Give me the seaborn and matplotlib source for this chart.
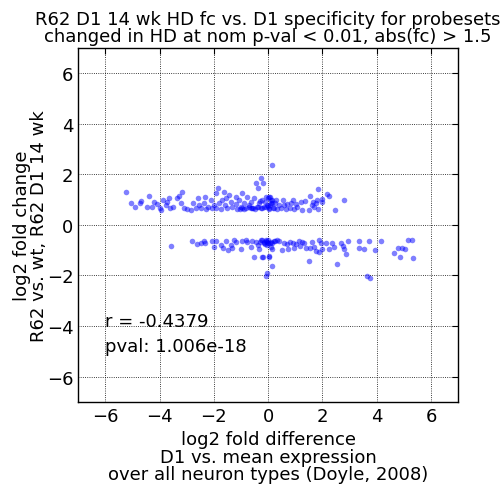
import matplotlib
matplotlib.use('Agg')
import matplotlib.pyplot as plt
import seaborn as sns
import pandas as pd

# probesets up in HD (upper band)
up_x = [-5.25, -5.04, -4.91, -4.73, -4.67, -4.48, -4.39, -4.29, -4.19, -4.08,
        -4.00, -3.96, -3.86, -3.78, -3.71, -3.65, -3.63, -3.51, -3.35, -3.28,
        -3.22, -3.16, -3.10, -3.00, -2.85, -2.76, -2.67, -2.58, -2.55, -2.48,
        -2.36, -2.32, -2.30, -2.20, -2.11, -2.05, -1.99, -1.93, -1.91, -1.83,
        -1.81, -1.75, -1.69, -1.62, -1.59, -1.56, -1.50, -1.44, -1.38, -1.32,
        -1.19, -1.17, -1.13, -1.07, -1.01, -0.95, -0.89, -0.82, -0.76, -0.70,
        -0.64, -0.58, -0.52, -0.45, -0.39, -0.36, -0.33, -0.27, -0.25, -0.21,
        -0.18, -0.15, -0.08, -0.03, 0.04, 0.06, 0.10, 0.16, 0.13,
        -0.22, -0.06, -0.02, 0.02, 0.19, 0.08, -0.10, -0.30, 0.00, 0.25,
        -1.05, -0.98, -0.88, -0.72, -0.62, -0.55, -0.48, -0.42,
        0.04, 0.10, 0.16, 0.22, 0.28, 0.34, 0.41, 0.47, 0.53, 0.59,
        0.65, 0.71, 0.80, 0.86, 0.90, 0.96, 1.02, 1.08, 1.21, 1.24,
        1.35, 1.49, 1.54, 1.61, 1.64, 1.70, 1.76, 1.80, 1.82, 1.82,
        1.98, 2.00, 2.16, 2.23, 2.47, 2.80]
up_y = [1.32, 0.88, 0.72, 0.86, 0.95, 0.72, 1.16, 0.72, 0.92, 0.83,
        0.66, 0.59, 0.99, 0.79, 0.92, 1.05, 0.66, 0.72, 1.05, 1.15,
        0.86, 1.32, 0.66, 0.62, 0.59, 0.86, 0.66, 1.08, 0.79, 0.66,
        0.86, 1.09, 0.62, 0.72, 0.99, 0.66, 0.79, 1.25, 0.66, 1.47,
        0.86, 0.62, 0.99, 1.32, 0.79, 1.05, 0.66, 1.19, 0.92, 0.70,
        1.12, 0.83, 0.62, 0.99, 0.72, 1.25, 0.86, 0.66, 1.12, 0.79,
        0.92, 0.66, 1.05, 1.65, 0.72, 1.45, 0.86, 0.66, 1.85, 0.99,
        1.65, 0.72, 1.12, 0.79, 0.66, 1.12, 0.86, 2.37, 0.99,
        0.65, 0.70, 0.75, 0.62, 0.68, 0.80, 0.90, 0.95, 1.05, 0.85,
        0.64, 0.68, 0.62, 0.70, 0.65, 0.68, 0.63, 0.70,
        1.12, 0.99, 0.86, 0.66, 0.99, 0.62, 0.79, 0.66, 0.99, 0.79,
        0.62, 0.82, 0.66, 0.86, 0.99, 0.62, 0.83, 0.72, 0.92, 0.59,
        0.96, 0.59, 1.15, 0.79, 0.92, 0.70, 0.86, 0.99, 1.41, 0.62,
        0.92, 1.01, 1.22, 1.15, 0.59, 0.99]

# probesets down in HD (lower band)
down_x = [-3.59, -2.82, -2.61, -2.48, -2.36, -2.32, -2.08, -1.93, -1.99, -1.75,
          -1.66, -1.56, -1.46, -1.38, -1.32, -1.25, -1.19, -1.01, -0.95, -0.82,
          -0.76, -0.64, -0.58, -0.52, -0.45, -0.39, -0.33, -0.27, -0.21, -0.15,
          -0.08, -0.03, 0.04, 0.10, 0.16,
          -0.22, -0.06, 0.00, 0.20, 0.09, -0.12, -0.02, 0.27, 0.07, -0.30,
          0.33, -0.05, 0.14, -0.17,
          0.41, 0.50, 0.59, 0.68, 0.75, 0.80, 0.90, 0.96, 1.02, 1.12,
          1.17, 1.24, 1.33, 1.39, 1.51, 1.54, 1.60, 1.70, 1.76, 1.86,
          1.86, 1.94, 1.98, 2.13, 2.25, 2.37, 2.44, 2.52, 2.68, 2.74,
          2.80, 2.87, 2.96, 3.33, 3.33, 3.55, 3.70, 3.66, 3.76, 3.95,
          4.16, 4.62, 4.77, 4.87, 4.93, 5.04, 5.14, 5.30, 5.32,
          -0.18, 0.04, 0.14, -0.08, -0.05]
down_y = [-0.83, -0.62, -0.76, -0.72, -0.62, -0.70, -0.62, -0.62, -0.86, -0.79,
          -0.92, -0.62, -0.99, -0.79, -0.90, -0.59, -0.66, -0.96, -0.62, -0.59,
          -0.66, -0.86, -0.62, -1.25, -0.66, -0.79, -0.96, -0.59, -1.28, -0.72,
          -0.59, -0.66, -1.25, -0.86, -0.96,
          -0.60, -0.65, -0.70, -0.62, -0.68, -0.75, -0.58, -0.64, -0.72, -0.66,
          -0.61, -0.80, -0.70, -0.67,
          -0.62, -0.99, -0.70, -0.75, -0.96, -0.67, -0.70, -0.92, -0.75, -0.62,
          -0.83, -0.66, -0.70, -0.92, -1.41, -0.92, -0.66, -0.86, -1.02, -0.59,
          -1.09, -0.70, -0.94, -0.72, -0.96, -0.72, -0.86, -1.54, -0.70, -0.83,
          -0.96, -1.15, -0.62, -0.62, -0.92, -0.96, -0.62, -2.02, -2.11, -0.99,
          -0.62, -1.12, -0.92, -1.25, -0.90, -0.95, -0.59, -0.59, -1.32,
          -1.28, -1.23, -1.62, -2.02, -1.90]

ticks = [-6, -4, -2, 0, 2, 4, 6]
r_text = 'r = -0.4379'
p_text = 'pval: 1.006e-18'

df = pd.DataFrame({'x': up_x + down_x, 'y': up_y + down_y})

sns.set_style('white')
plt.rcParams['font.family'] = ['DejaVu Sans']
plt.rcParams['text.color'] = 'black'
plt.rcParams['axes.labelcolor'] = 'black'

fs = 13
fig = plt.figure(figsize=(5.04, 4.89), dpi=100)
ax = fig.add_axes([0.155, 0.176, 0.754, 0.724])

sns.scatterplot(data=df, x='x', y='y', ax=ax, color='blue', alpha=0.5,
                s=16, linewidth=0)

ax.set_xlim(-7, 7)
ax.set_ylim(-7, 7)
ax.set_xticks(ticks)
ax.set_yticks(ticks)
ax.grid(True, color='black', linestyle=':', linewidth=0.6)
for sp in ax.spines.values():
    sp.set_color('black')
    sp.set_linewidth(1)
ax.tick_params(direction='in', top=True, right=True, length=4,
               labelsize=fs, colors='black')

ax.text(-6, -4, r_text, fontsize=fs, color='black')
ax.text(-6, -5, p_text, fontsize=fs, color='black')

ax.set_title('R62 D1 14 wk HD fc vs. D1 specificity for probesets\n'
             'changed in HD at nom p-val < 0.01, abs(fc) > 1.5',
             fontsize=fs, linespacing=0.95, pad=5, color='black')
ax.set_xlabel('log2 fold difference\nD1 vs. mean expression\n'
              'over all neuron types (Doyle, 2008)', fontsize=fs,
              linespacing=0.95, labelpad=4)
ax.set_ylabel('log2 fold change\nR62 vs. wt, R62 D1 14 wk', fontsize=fs,
              linespacing=0.95, labelpad=-1)

fig.savefig('out.png', dpi=100)
